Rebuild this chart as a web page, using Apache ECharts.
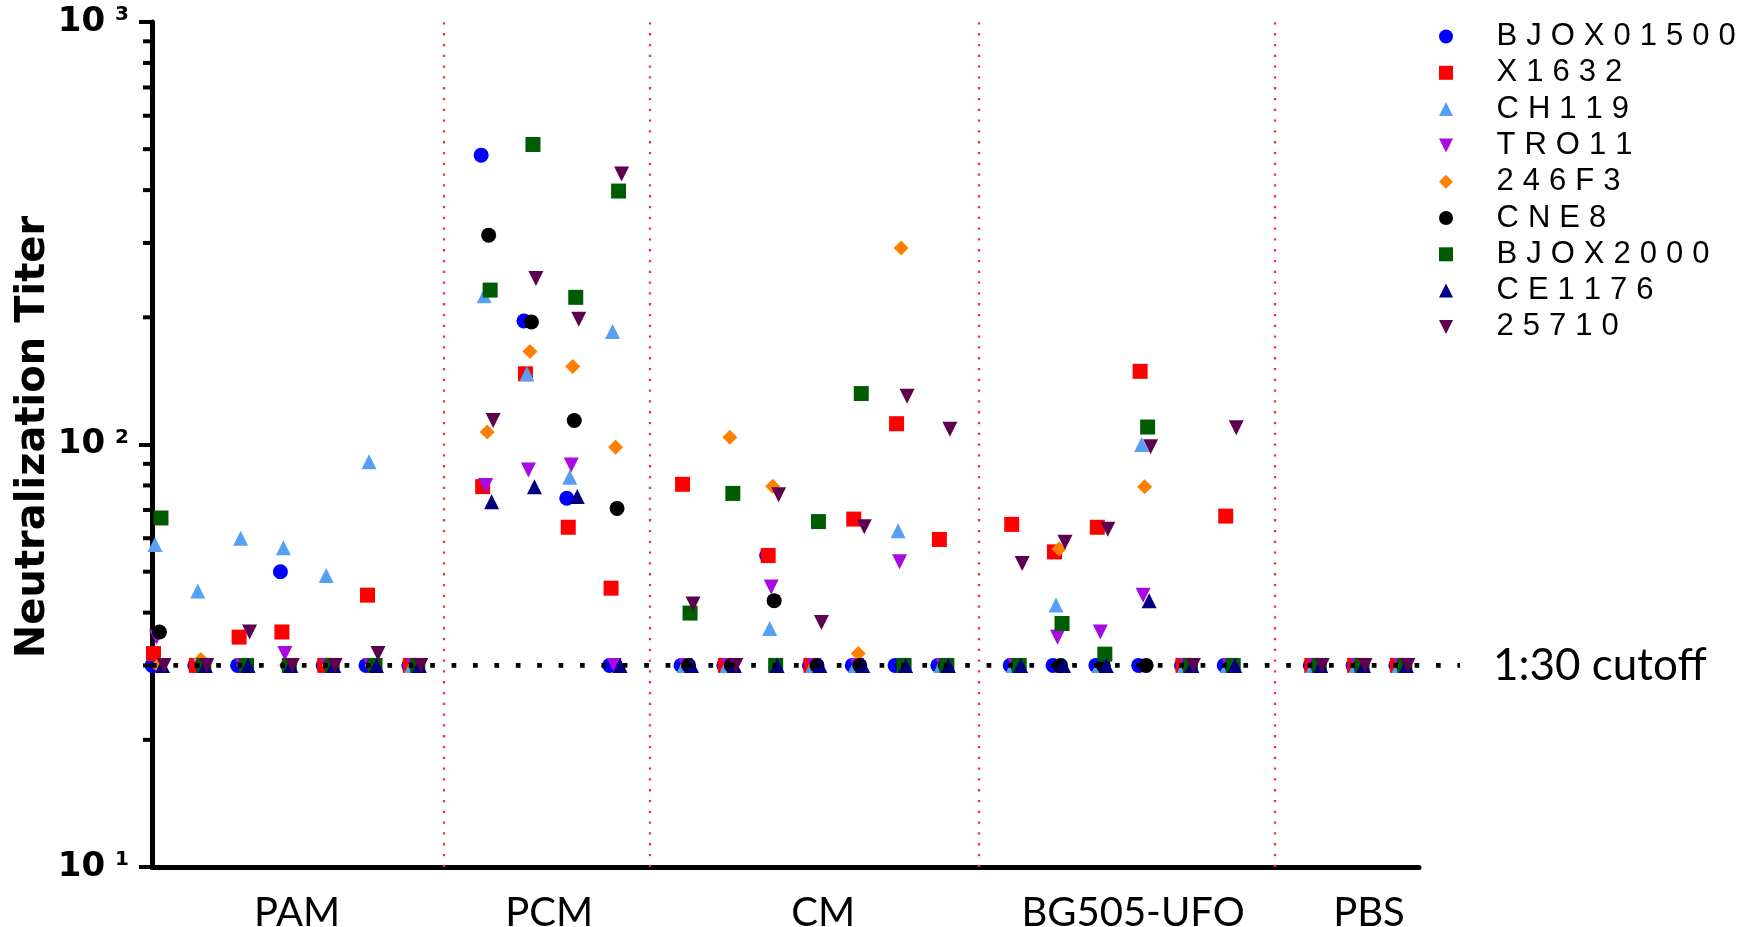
<!DOCTYPE html>
<html>
<head>
<meta charset="utf-8">
<title>Neutralization Titer</title>
<script src="https://cdn.jsdelivr.net/npm/echarts@6/dist/echarts.min.js"></script>
<style>
  html, body { margin: 0; padding: 0; background: #fff; }
  #chart { width: 1756px; height: 927px; }
</style>
</head>
<body>
<div id="chart"></div>
<script>
// groups of animals along x
const groupNames = ["PAM", "PCM", "CM", "BG505-UFO", "PBS"];
const groupSizes = [7, 4, 7, 6, 3];

const virusNames = ["BJOX01500", "X1632", "CH119", "TRO11", "246F3", "CNE8", "BJOX2000", "CE1176", "25710"];

// titers per animal: PAM(7) | PCM(4) | CM(7) | BG505-UFO(6) | PBS(3)
const tBJOX01500 = [30, 30, 30, 50, 30, 30, 30,   484, 196, 74.6, 30,   30, 30, 54.6, 30, 30, 30, 30,   30, 30, 30, 30, 30, 30,   30, 30, 30];
const tX1632     = [32, 30, 35, 36, 30, 44, 30,   79.5, 147, 63.7, 45.7,   80.5, 30, 54.6, 30, 66.6, 112, 59.6,   64.7, 55.7, 63.7, 149, 30, 67.7,   30, 30, 30];
const tCH119     = [58, 45, 60, 57, 49, 91, 30,   225, 147, 83.6, 185,   30, 30, 36.7, 30, 30, 62.5, 30,   30, 41.7, 30, 100, 30, 30,   30, 30, 30];
const tTRO11     = [35, 30, 30, 32, 30, 30, 30,   80, 87, 89.4, 30,   30, 30, 46, 30, 30, 52.8, 30,   30, 35, 36, 44, 30, 30,   30, 30, 30];
const t246F3     = [30, 31, 30, 30, 30, 30, 30,   107, 166, 153, 98.5,   30, 104, 79.7, 30, 32, 292, 30,   30, 56.6, 30, 79.4, 30, 30,   30, 30, 30];
const tCNE8      = [36, 30, 30, 30, 30, 30, 30,   313, 195, 114, 70.6,   30, 30, 42.7, 30, 30, 30, 30,   30, 30, 30, 30, 30, 30,   30, 30, 30];
const tBJOX2000  = [67, 30, 30, 30, 30, 30, 30,   232, 513, 223, 398,   39.9, 76.6, 30, 65.7, 132, 30, 30,   30, 37.7, 31.9, 110, 30, 30,   30, 30, 30];
const tCE1176    = [30, 30, 30, 30, 30, 30, 30,   73.2, 79.4, 75.3, 30,   30, 30, 30, 30, 30, 30, 30,   30, 30, 30, 42.7, 30, 30,   30, 30, 30];
const t25710     = [30, 30, 36, 30, 30, 32, 30,   114, 247, 198, 437,   41.9, 30, 76, 37.9, 63.9, 130, 108.6,   52.3, 58.7, 63, 98.8, 30, 109.6,   30, 30, 30];
const seriesValues = [tBJOX01500, tX1632, tCH119, tTRO11, t246F3, tCNE8, tBJOX2000, tCE1176, t25710];

const cutoff = 30;
const yMin = 10, yMax = 1000;
const minorTicks = [20, 30, 40, 50, 60, 70, 80, 90, 200, 300, 400, 500, 600, 700, 800, 900];

// x layout, in units of one animal slot
const groupStart = [0.14, 7.83, 12.5, 20.19, 27.2];
const dividerX = [6.81, 11.62, 19.32, 26.23];
const labelX = [3.39, 9.28, 15.68, 22.92, 28.43];
const xMax = 29.6;
const seriesShift = 0.035;

const colors = ["#0000FF", "#FF0000", "#55A0F5", "#A80BE2", "#FF8000", "#000000", "#005C00", "#000080", "#5E0050"];
const DOWN = "path://M0,0L10,0L5,10Z";
const symbols = ["circle", "rect", "triangle", DOWN, "diamond", "circle", "rect", "triangle", DOWN];

const animalX = [];
groupSizes.forEach(function (n, g) {
  for (let k = 0; k < n; k++) animalX.push(groupStart[g] + k);
});

const chart = echarts.init(document.getElementById("chart"));

const scatterSeries = virusNames.map(function (name, s) {
  return {
    type: "scatter",
    name: name,
    symbol: symbols[s],
    symbolSize: 15,
    itemStyle: { color: colors[s], opacity: 1 },
    data: seriesValues[s].map(function (v, i) { return [animalX[i] + (s - 4) * seriesShift, v]; }),
    clip: false,
    silent: true,
    z: 2
  };
});

const legendChar = { fontFamily: "Liberation Sans", fontSize: 31, color: "#000", lineHeight: 24 };

chart.setOption({
  animation: false,
  backgroundColor: "#fff",
  textStyle: { fontFamily: "Liberation Sans", color: "#000" },
  grid: [
    { left: 152, right: 337, top: 22, bottom: 60, outerBoundsMode: "none", containLabel: false },
    { left: 152, right: 296, top: 22, bottom: 60, outerBoundsMode: "none", containLabel: false }
  ],
  legend: {
    orient: "vertical",
    left: 1439,
    top: 21,
    padding: 0,
    itemWidth: 14,
    itemHeight: 14,
    itemGap: 5.3,
    selectedMode: false,
    data: virusNames,
    formatter: function (name) {
      return name.split("").map(function (c, i) { return "{" + (i ? "c" : "f") + "|" + c + "}"; }).join("");
    },
    textStyle: {
      rich: {
        f: Object.assign({ padding: [0, 4.5, 0, 38.5] }, legendChar),
        c: Object.assign({ padding: [0, 4.5, 0, 4.5] }, legendChar)
      }
    }
  },
  xAxis: [
    {
      type: "value",
      gridIndex: 0,
      min: 0,
      max: xMax,
      axisLine: { show: true, lineStyle: { color: "#000", width: 5 } },
      axisTick: { show: false },
      splitLine: { show: false },
      axisLabel: {
        customValues: labelX,
        margin: 26,
        fontFamily: "Lato",
        fontSize: 40,
        color: "#000",
        formatter: function (v) {
          let best = 0;
          labelX.forEach(function (p, i) { if (Math.abs(p - v) < Math.abs(labelX[best] - v)) best = i; });
          return groupNames[best];
        }
      }
    },
    { type: "value", gridIndex: 1, min: 0, max: 1, show: false }
  ],
  yAxis: [
    {
      type: "log",
      logBase: 10,
      gridIndex: 0,
      min: yMin,
      max: yMax,
      name: "Neutralization Titer",
      nameLocation: "middle",
      nameRotate: 90,
      nameGap: 98,
      nameMoveOverlap: false,
      nameTextStyle: { fontFamily: "DejaVu Sans", fontWeight: "bold", fontSize: 40, color: "#000", padding: [0, 0, 0, 15] },
      axisLine: { show: true, lineStyle: { color: "#000", width: 5 } },
      axisTick: { show: true, inside: false, length: 13, lineStyle: { color: "#000", width: 4 } },
      splitLine: { show: false },
      axisLabel: {
        margin: 23,
        formatter: function (v) {
          return "{b|10}{s|" + Math.round(Math.log10(v)) + "}";
        },
        rich: {
          b: { fontFamily: "DejaVu Sans", fontWeight: "bold", fontSize: 34, color: "#000", verticalAlign: "bottom", lineHeight: 34, padding: [4, 0, 0, 0] },
          s: { fontFamily: "DejaVu Sans", fontWeight: "bold", fontSize: 20, color: "#000", verticalAlign: "top", lineHeight: 20, padding: [0, 0, 0, 10] }
        }
      }
    },
    { type: "log", logBase: 10, gridIndex: 1, min: yMin, max: yMax, show: false }
  ],
  series: [
    {
      // minor log ticks on the y axis plus the red group dividers
      type: "custom",
      xAxisIndex: 0,
      yAxisIndex: 0,
      silent: true,
      clip: false,
      data: minorTicks.map(function (v) { return [0, v]; }),
      encode: { x: 0, y: 1 },
      renderItem: function (params, api) {
        const p = api.coord([0, api.value(1)]);
        return {
          type: "line",
          shape: { x1: p[0] - 9, y1: p[1], x2: p[0], y2: p[1] },
          style: { stroke: "#000", lineWidth: 4 }
        };
      },
      markLine: {
        silent: true,
        symbol: ["none", "none"],
        label: { show: false },
        lineStyle: { color: "#FF2A3A", width: 2.3, type: [2.3, 8.5], opacity: 1 },
        data: dividerX.map(function (x) { return { xAxis: x }; })
      },
      z: 3
    }
  ].concat(scatterSeries, [
    {
      type: "line",
      xAxisIndex: 1,
      yAxisIndex: 1,
      silent: true,
      symbol: "none",
      data: [[0, cutoff], [1, cutoff]],
      lineStyle: { color: "#000", width: 4.7, type: [4.7, 16.7], cap: "butt" },
      endLabel: {
        show: true,
        formatter: "1:30 cutoff",
        distance: 33,
        fontFamily: "Lato",
        fontSize: 44,
        color: "#000"
      },
      z: 5
    }
  ])
});
</script>
</body>
</html>
